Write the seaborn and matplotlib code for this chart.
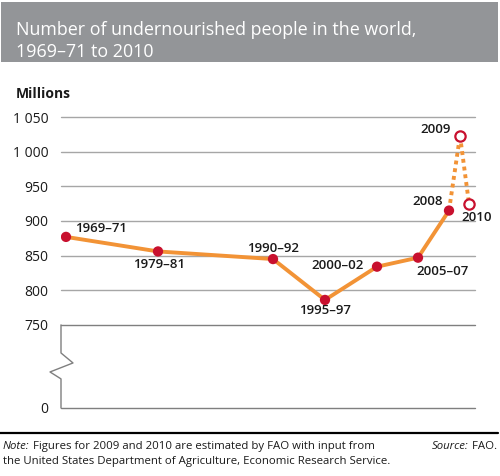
import matplotlib
matplotlib.use("Agg")
import matplotlib.pyplot as plt
from matplotlib.patches import Rectangle
import pandas as pd
import seaborn as sns

# data
periods = ["1969–71", "1979–81", "1990–92", "1995–97", "2000–02", "2005–07", "2008", "2009", "2010"]
x_pos = [5, 97, 212, 264, 316, 357, 388, 399, 408]   # horizontal placement used in the original
millions = [877, 856, 845, 786, 834, 847, 915, 1023, 925]
estimated = [False, False, False, False, False, False, False, True, True]
tick_values = [0, 750, 800, 850, 900, 950, 1000, 1050]
tick_labels = ["0", "750", "800", "850", "900", "950", "1 000", "1 050"]

df = pd.DataFrame({"period": periods, "x": x_pos, "value": millions, "est": estimated})

ORANGE = "#F29336"
RED = "#C8102E"
GRID = "#A6A6A6"
FRAME = "#7F7F7F"

sns.set_style("white")
plt.rcParams["font.family"] = ["Open Sans", "DejaVu Sans"]

fig = plt.figure(figsize=(5, 4.76), dpi=100)

# header band
fig.patches.append(Rectangle((0.002, 0.8697), 0.994, 0.126, transform=fig.transFigure,
                             facecolor="#939598", edgecolor="none", zorder=0))
fig.text(0.032, 0.938, "Number of undernourished people in the world,", color="white",
         fontsize=12.9, va="center", ha="left")
fig.text(0.032, 0.891, "1969–71 to 2010", color="white", fontsize=12.9, va="center", ha="left")

ax = fig.add_axes([0.122, 0.1429, 0.828, 0.633])

# the part below 750 is compressed: "0" sits at a fake position
zero_pos = 630
def fake(v):
    return zero_pos if v == 0 else v

for s in ax.spines.values():
    s.set_visible(False)

solid = df.iloc[:7]
dotted_a = df.iloc[6:8]
dotted_b = df.iloc[7:9]

sns.lineplot(data=solid, x="x", y="value", color=ORANGE, lw=2.8, sort=False, ax=ax, zorder=2)
for seg in (dotted_a, dotted_b):
    sns.lineplot(data=seg, x="x", y="value", color=ORANGE, lw=2.8, sort=False, ax=ax,
                 zorder=2, linestyle=(0, (1.0, 1.0)), dash_capstyle="butt")

sns.scatterplot(data=df[~df["est"]], x="x", y="value", color=RED, s=55, edgecolor="none",
                ax=ax, zorder=3)
sns.scatterplot(data=df[df["est"]], x="x", y="value", facecolor="white", edgecolor=RED,
                linewidth=1.6, s=55, ax=ax, zorder=3)

# gridlines, drawn across the plot width only
for v in tick_values[2:]:
    ax.plot([0, 414], [v, v], color=GRID, lw=1.0, zorder=1, clip_on=False)
ax.plot([0, 414], [750, 750], color=FRAME, lw=1.0, zorder=1, clip_on=False)
ax.plot([0, 414], [zero_pos, zero_pos], color=FRAME, lw=1.0, zorder=1, clip_on=False)

# left spine with break symbol
ax.plot([0, 0, 12, -11, 0, 0], [750, 709.4, 695, 682, 672, zero_pos],
        color=FRAME, lw=1.0, clip_on=False, zorder=1)

ax.set_xlim(0, 414)
ax.set_ylim(zero_pos, 1065)
ax.set_yticks([fake(v) for v in tick_values])
ax.set_yticklabels(tick_labels)
ax.set_xticks([])
ax.tick_params(axis="y", length=0, pad=9, labelsize=10, labelcolor="#1a1a1a")
ax.set_ylabel("")
ax.set_xlabel("")
ax.text(-45, 1083, "Millions", fontsize=10, fontweight="bold", ha="left", va="center",
        color="#1a1a1a")

# label offsets in pixels (dx, dy, ha)
offsets = {
    "1969–71": (9, 8, "left"),
    "1979–81": (1, -13, "center"),
    "1990–92": (0, 11, "center"),
    "1995–97": (0, -11, "center"),
    "2000–02": (-13, 1, "right"),
    "2005–07": (-2, -14, "left"),
    "2008": (-6, 9, "right"),
    "2009": (-9, 6, "right"),
    "2010": (-8, -14, "left"),
}
for p, xv, yv in zip(periods, x_pos, millions):
    dx, dy, ha = offsets[p]
    ax.annotate(p, (xv, yv), xytext=(dx, dy), textcoords="offset pixels", ha=ha, va="center",
                fontsize=9.5, fontweight="semibold", color="#1a1a1a", annotation_clip=False)

# footer
fig.add_artist(plt.Line2D([0.0, 0.996], [0.0903, 0.0903], transform=fig.transFigure,
                          color="black", lw=1.6))
fig.canvas.draw()
renderer = fig.canvas.get_renderer()
note = fig.text(0.006, 0.061, "Note:", fontsize=8.2, style="italic", ha="left", va="center",
                color="#1a1a1a")
bb = note.get_window_extent(renderer)
fig.text(bb.x1 / fig.bbox.width, 0.061,
         " Figures for 2009 and 2010 are estimated by FAO with input from",
         fontsize=8.2, ha="left", va="center", color="#1a1a1a")
fig.text(0.006, 0.031, "the United States Department of Agriculture, Economic Research Service.",
         fontsize=8.2, ha="left", va="center", color="#1a1a1a")
src = fig.text(0.994, 0.061, " FAO.", fontsize=8.2, ha="right", va="center", color="#1a1a1a")
sb = src.get_window_extent(renderer)
fig.text(sb.x0 / fig.bbox.width, 0.061, "Source:", fontsize=8.2, style="italic", ha="right",
         va="center", color="#1a1a1a")

fig.savefig("out.png", dpi=100)
